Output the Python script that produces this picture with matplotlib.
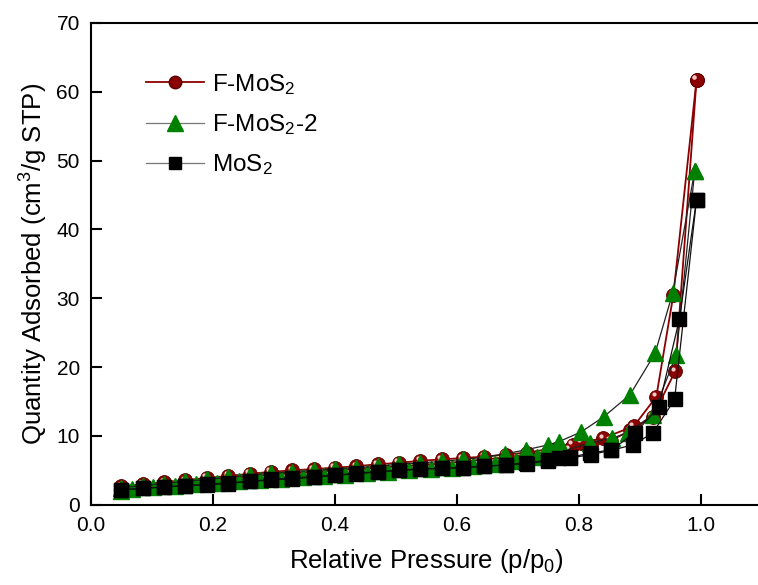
import matplotlib
matplotlib.use("Agg")
import matplotlib.pyplot as plt
from matplotlib.lines import Line2D
from matplotlib.transforms import offset_copy

plt.rcParams["font.family"] = ["Liberation Sans", "DejaVu Sans"]
plt.rcParams["mathtext.fontset"] = "custom"
plt.rcParams["mathtext.rm"] = "Liberation Sans"
plt.rcParams["mathtext.it"] = "Liberation Sans:italic"

# F-MoS2
fmos2_ads_x = [0.050, 0.085, 0.120, 0.155, 0.190, 0.225, 0.260, 0.295, 0.330, 0.365,
               0.400, 0.435, 0.470, 0.505, 0.540, 0.575, 0.610, 0.645, 0.680, 0.715,
               0.750, 0.785, 0.820, 0.852, 0.884, 0.921, 0.958, 0.993]
fmos2_ads_y = [2.6, 2.9, 3.2, 3.4, 3.6, 3.9, 4.1, 4.4, 4.6, 4.8,
               5.0, 5.2, 5.4, 5.6, 5.8, 6.0, 6.3, 6.6, 6.9, 7.3,
               7.7, 8.1, 8.6, 9.3, 10.8, 12.8, 19.4, 61.7]
fmos2_des_x = [0.993, 0.955, 0.927, 0.890, 0.840, 0.804, 0.790, 0.766, 0.715, 0.680,
               0.645, 0.610, 0.575, 0.540, 0.505, 0.470, 0.435, 0.400, 0.365, 0.330,
               0.295, 0.260, 0.225, 0.190, 0.155, 0.120, 0.085, 0.050]
fmos2_des_y = [61.7, 30.5, 15.7, 11.4, 9.7, 9.0, 8.7, 8.3, 7.6, 7.3,
               7.0, 6.8, 6.6, 6.4, 6.1, 5.9, 5.6, 5.4, 5.2, 5.0,
               4.8, 4.5, 4.2, 3.9, 3.6, 3.3, 3.0, 2.7]

# F-MoS2-2
fmos22_ads_x = [0.050, 0.068, 0.102, 0.137, 0.172, 0.207, 0.242, 0.277, 0.312, 0.347,
                0.382, 0.417, 0.452, 0.487, 0.522, 0.557, 0.592, 0.627, 0.662, 0.697,
                0.732, 0.767, 0.818, 0.854, 0.880, 0.921, 0.960, 0.990]
fmos22_ads_y = [2.0, 2.3, 2.6, 2.8, 3.0, 3.2, 3.4, 3.6, 3.8, 4.0,
                4.2, 4.4, 4.6, 4.8, 5.0, 5.2, 5.4, 5.7, 6.0, 6.4,
                6.9, 7.6, 9.0, 9.7, 10.4, 13.1, 21.8, 48.5]
fmos22_des_x = [0.990, 0.954, 0.925, 0.884, 0.841, 0.804, 0.768, 0.749, 0.714, 0.679,
                0.644, 0.610, 0.575, 0.540, 0.505, 0.470, 0.435, 0.400, 0.365, 0.330,
                0.295, 0.260, 0.225, 0.190, 0.155, 0.120, 0.085, 0.050]
fmos22_des_y = [48.5, 30.8, 22.0, 16.0, 12.8, 10.6, 9.2, 8.7, 8.0, 7.4,
                6.9, 6.6, 6.3, 6.1, 5.9, 5.6, 5.4, 5.2, 5.0, 4.8,
                4.6, 4.3, 4.0, 3.7, 3.4, 3.1, 2.8, 2.5]

# MoS2
mos2_ads_x = fmos2_ads_x[:24] + [0.888, 0.921, 0.957, 0.993]
mos2_ads_y = [2.2, 2.4, 2.6, 2.8, 2.9, 3.1, 3.4, 3.6, 3.8, 4.0,
              4.3, 4.5, 4.8, 5.0, 5.2, 5.3, 5.4, 5.6, 5.8, 6.0,
              6.4, 6.8, 7.3, 7.9, 8.7, 10.4, 15.3, 44.3]
mos2_des_x = [0.993, 0.965, 0.931, 0.892, 0.853, 0.818, 0.785, 0.768, 0.750, 0.714,
              0.680, 0.645, 0.610, 0.575, 0.540, 0.505, 0.470, 0.435, 0.400, 0.365,
              0.330, 0.295, 0.260, 0.225, 0.190, 0.155, 0.120, 0.085, 0.050]
mos2_des_y = [44.3, 27.0, 14.2, 10.4, 8.0, 7.5, 6.9, 6.8, 6.5, 6.1,
              5.8, 5.6, 5.4, 5.3, 5.2, 5.0, 4.8, 4.6, 4.3, 4.1,
              3.9, 3.7, 3.4, 3.2, 3.0, 2.8, 2.6, 2.4, 2.2]

labels = [r"F-MoS$_2$", r"F-MoS$_2$-2", r"MoS$_2$"]

red = "#8b0000"
green = "#008000"

fig = plt.figure(figsize=(7.58, 5.85), dpi=100)
ax = fig.add_axes([0.12, 0.137, 0.885, 0.824])

# F-MoS2 spheres (with a small highlight)
for xs, ys in [(fmos2_ads_x, fmos2_ads_y), (fmos2_des_x, fmos2_des_y)]:
    ax.plot(xs, ys, color=red, lw=1.3, marker="o", ms=10,
            mfc=red, mec="#5a0000", mew=0.6, zorder=2)
    hl = offset_copy(ax.transData, fig=fig, x=-1.8, y=1.8, units="points")
    ax.plot(xs, ys, ls="none", marker="o", ms=3, mfc="#f4c8c8", mec="none",
            transform=hl, zorder=2.1)

# F-MoS2-2 triangles
for xs, ys in [(fmos22_ads_x, fmos22_ads_y), (fmos22_des_x, fmos22_des_y)]:
    ax.plot(xs, ys, color="#222222", lw=0.9, marker="^", ms=11,
            mfc=green, mec=green, zorder=3)

# MoS2 squares
for xs, ys in [(mos2_ads_x, mos2_ads_y), (mos2_des_x, mos2_des_y)]:
    ax.plot(xs, ys, color="#111111", lw=0.9, marker="s", ms=9.5,
            mfc="black", mec="black", zorder=4)

ax.set_xlim(0, 1.1)
ax.set_ylim(0, 70)
ax.set_xticks([0.0, 0.2, 0.4, 0.6, 0.8, 1.0])
ax.set_yticks(range(0, 71, 10))
ax.set_xticklabels(["0.0", "0.2", "0.4", "0.6", "0.8", "1.0"])
ax.tick_params(direction="in", length=8, width=1.5, labelsize=15, pad=8)
for s in ax.spines.values():
    s.set_linewidth(1.5)

ax.set_xlabel("Relative Pressure (p/p$_0$)", fontsize=18.5, labelpad=9)
ax.set_ylabel("Quantity Adsorbed (cm$^3$/g STP)", fontsize=18.5, labelpad=5)

handles = [
    Line2D([], [], color=red, lw=1.3, marker="o", ms=9, mfc=red, mec="#5a0000"),
    Line2D([], [], color="#777777", lw=0.9, marker="^", ms=11, mfc=green, mec=green),
    Line2D([], [], color="#777777", lw=0.9, marker="s", ms=9, mfc="black", mec="black"),
]
ax.legend(handles, labels, loc="upper left", bbox_to_anchor=(0.049, 0.944),
          frameon=False, fontsize=17.5, handlelength=2.4, labelspacing=0.64,
          handletextpad=0.33)

fig.savefig("out.png", dpi=100)
